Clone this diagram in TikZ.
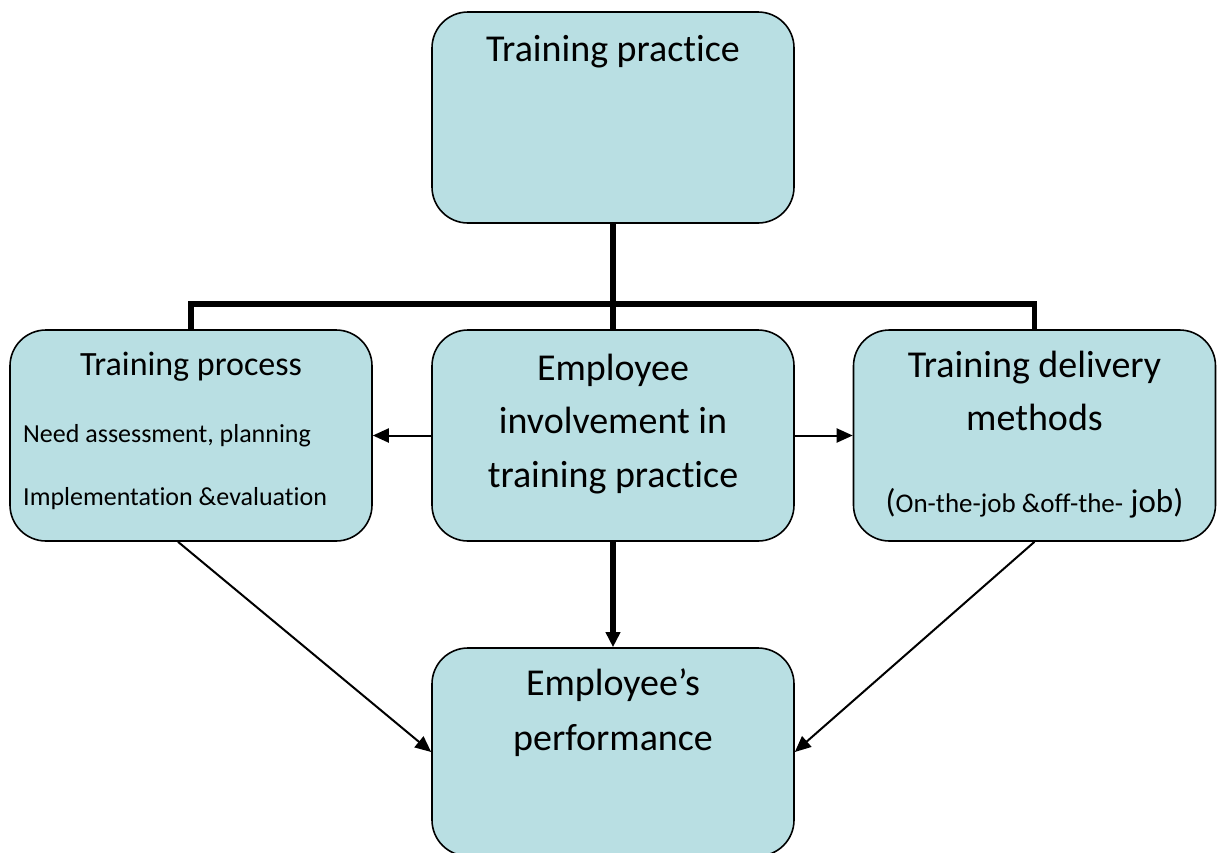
\documentclass[tikz,border=0pt]{standalone}
\usepackage{fontspec}
\setmainfont{Carlito}[Ligatures={NoCommon,NoRequired,NoContextual}]
\usetikzlibrary{arrows.meta,calc}
\definecolor{boxfill}{RGB}{185,223,227}
\newcommand{\fsbig}{\fontsize{38}{46}\selectfont}
\newcommand{\fsmid}{\fontsize{34}{41}\selectfont}
\newcommand{\fsparen}{\fontsize{33}{40}\selectfont}
\newcommand{\fssml}{\fontsize{26}{31}\selectfont}
\newcommand{\fsinner}{\fontsize{27}{32}\selectfont}
\begin{document}
\begin{tikzpicture}[x=1pt,y=-1pt,
  box/.style={draw=black, line width=1.6pt, fill=boxfill, rounded corners=36pt,
    minimum width=362pt, minimum height=211pt, inner sep=0pt},
  txt/.style={anchor=base, inner sep=0pt},
  ltxt/.style={anchor=base west, inner sep=0pt},
  trunk/.style={line width=5.5pt, line join=miter},
  thin/.style={line width=2pt, -{Triangle[length=16pt,width=14pt]}},
  thick/.style={line width=5.5pt, -{Triangle[length=15pt,width=14pt]}}]
\useasboundingbox (0,0) rectangle (1219,852);

% boxes
\node[box] (tp)   at (613,117.5) {};
\node[box] (lp)   at (191,435.5) {};
\node[box] (emp)  at (613,435.5) {};
\node[box] (rp)   at (1034.5,435.5) {};
\node[box, minimum height=208pt] (perf) at (613,752) {};

% texts
\node[txt] (t1) at (613,61) {\fsbig Training practice};

\node[txt] (l1) at (191,375) {\fsmid Training process};
\node[ltxt] (l2) at (23,442) {\fssml Need assessment, planning};
\node[ltxt] (l3) at (23,505) {\fssml Implementation \&evaluation};

\node[txt] (m1) at (613,380) {\fsbig Employee};
\node[txt] (m2) at (613,433) {\fsbig involvement in};
\node[txt] (m3) at (613,487) {\fsbig training practice};

\node[txt] (r1) at (1034.5,377) {\fsbig Training delivery};
\node[txt] (r2) at (1034.5,430) {\fsbig methods};
\node[txt] (r3) at (1034.5,512) {\fsparen(\fsinner On-the-job \&off-the-\fsparen{} job)};

\node[txt] (b1) at (613,695) {\fsbig Employee’s};
\node[txt] (b2) at (613,750) {\fsbig performance};

% tree joining the top box with the middle row
\coordinate (bar) at (613,304);
\draw[trunk] (tp.south) -- (emp.north);
\draw[trunk] (lp.north) -- (lp.north |- bar) -- (rp.north |- bar) -- (rp.north);

% arrows
\draw[thin] (emp.west) -- (lp.east);
\draw[thin] (emp.east) -- (rp.west);
\draw[thick] (emp.south) -- (perf.north);
\draw[thin] ($(lp.south)+(-13,0)$) -- (perf.west);
\draw[thin] (rp.south) -- (perf.east);
\end{tikzpicture}
\end{document}
